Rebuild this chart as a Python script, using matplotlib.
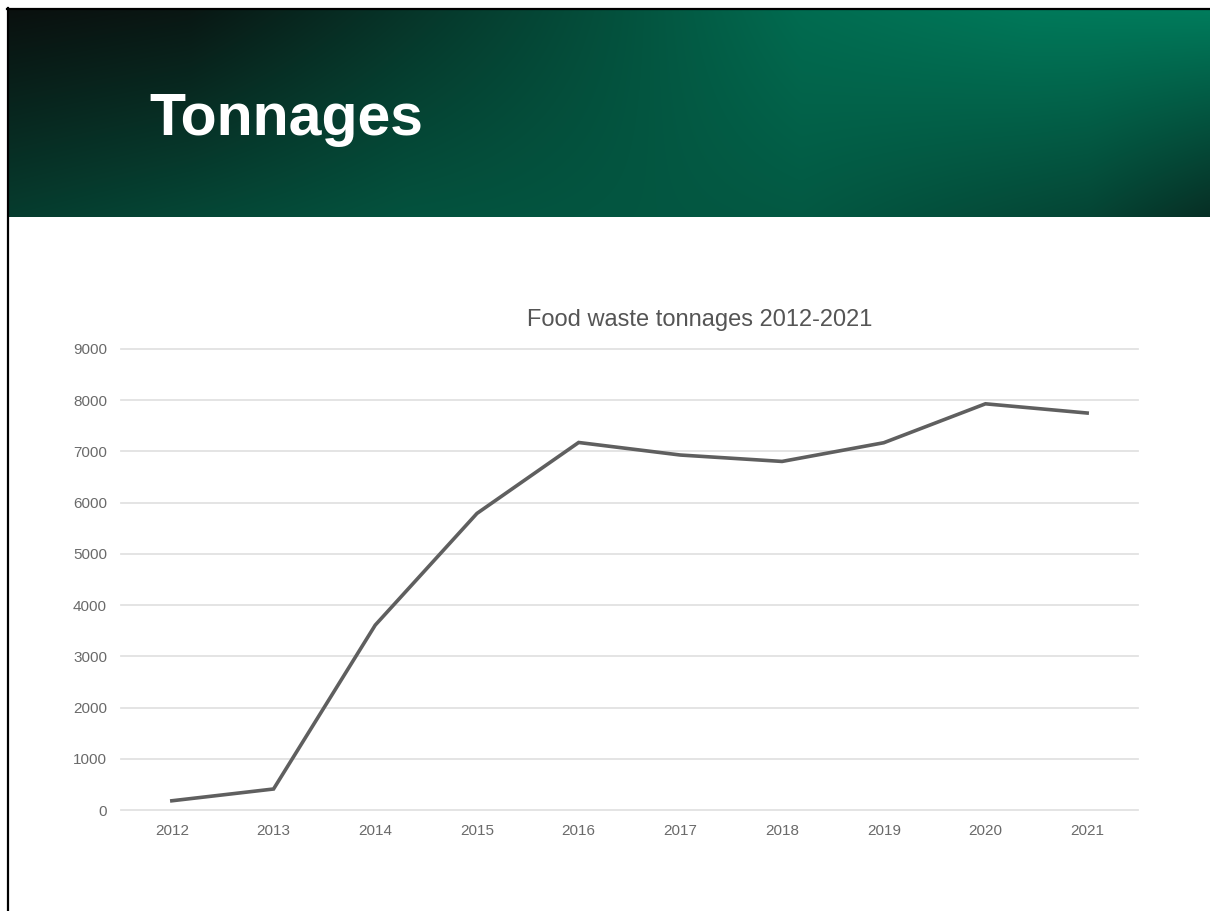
import numpy as np
import matplotlib
matplotlib.use("Agg")
import matplotlib.pyplot as plt
from matplotlib.lines import Line2D

years = ["2012", "2013", "2014", "2015", "2016", "2017", "2018", "2019", "2020", "2021"]
tonnes = [180, 410, 3610, 5790, 7175, 6930, 6805, 7170, 7930, 7750]
y_ticks = [0, 1000, 2000, 3000, 4000, 5000, 6000, 7000, 8000, 9000]

plt.rcParams['font.family'] = ['Liberation Sans', 'DejaVu Sans']

W, H = 1210, 911
fig = plt.figure(figsize=(W / 100, H / 100), dpi=100)
fig.patch.set_facecolor("white")

# header band with a dark-to-green gradient
hdr = fig.add_axes([9 / W, 1 - 217 / H, 1 - 9 / W, 208 / H])
hdr.axis("off")
nx, ny = 400, 100
t = np.linspace(0, 1, nx)
u = np.linspace(0, 1, ny)[:, None]
a_top = np.interp(t, [0, 0.15, 0.33, 0.5, 0.66, 0.85, 1],
                  [0.02, 0.08, 0.35, 0.6, 0.85, 0.97, 1.0])[None, :]
a_bot = np.interp(t, [0, 0.33, 0.66, 0.9, 1],
                  [0.42, 0.62, 0.68, 0.5, 0.3])[None, :]
a = a_top * (1 - u) + a_bot * u
dark = np.array([10, 14, 13]) / 255
green = np.array([0, 124, 92]) / 255
img = dark[None, None, :] * (1 - a[..., None]) + green[None, None, :] * a[..., None]
hdr.imshow(img, aspect="auto", extent=[0, 1, 0, 1], interpolation="bilinear")
hdr.set_xlim(0, 1)
hdr.set_ylim(0, 1)

fig.text(149 / W, 1 - 135 / H, "Tonnages", color="white", fontsize=42.5,
         fontweight="bold", ha="left", va="baseline")

# frame lines on top and left
fig.add_artist(Line2D([7 / W, 1], [1 - 8.5 / H, 1 - 8.5 / H], color="black", lw=1.6,
                      transform=fig.transFigure))
fig.add_artist(Line2D([8 / W, 8 / W], [0, 1 - 8 / H], color="black", lw=1.6,
                      transform=fig.transFigure))

# the chart
ax = fig.add_axes([121 / W, 1 - 810 / H, 1017 / W, 461 / H])
x = np.arange(len(years))
ax.plot(x, tonnes, color="#5f5f5f", lw=2.6, solid_joinstyle="miter", zorder=3)
ax.set_xlim(-0.5, len(years) - 0.5)
ax.set_ylim(0, 9000)
ax.set_yticks(y_ticks)
ax.set_yticklabels([str(v) for v in y_ticks])
ax.set_xticks(x)
ax.set_xticklabels(years)
ax.grid(axis="y", color="#e2e2e2", lw=1.3)
for gl in ax.get_ygridlines():
    gl.set_clip_on(False)
ax.set_axisbelow(True)
for s in ax.spines.values():
    s.set_visible(False)
ax.tick_params(length=0, colors="#6a6a6a", labelsize=11)
ax.tick_params(axis="y", pad=10)
ax.tick_params(axis="x", pad=10)

fig.text(700 / W, 1 - 320 / H, "Food waste tonnages 2012-2021", color="#555555",
         fontsize=17, ha="center", va="center")

fig.savefig("out.png", dpi=100)
